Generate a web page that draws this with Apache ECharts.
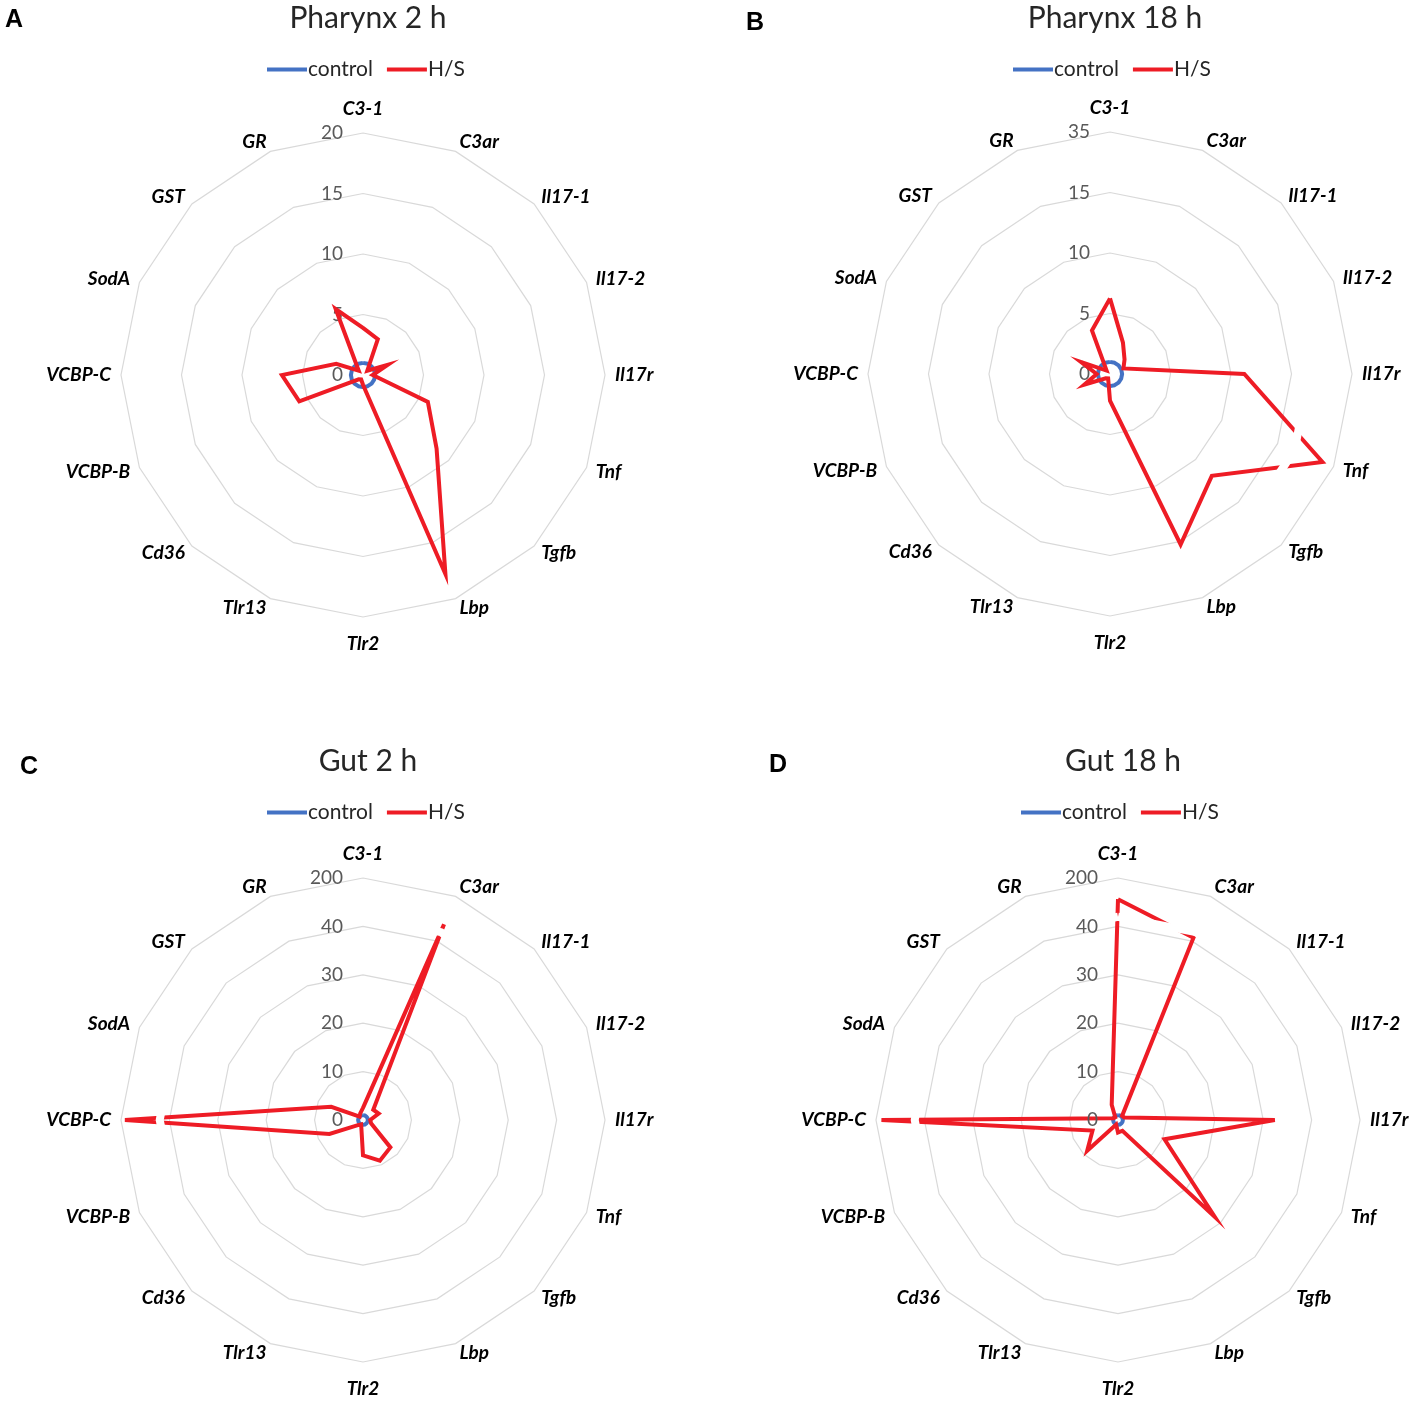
<!DOCTYPE html>
<html><head><meta charset="utf-8">
<script src="https://cdn.jsdelivr.net/npm/echarts@6/dist/echarts.min.js"></script>
<style>html,body{margin:0;padding:0;background:#fff}#c{width:1416px;height:1401px}</style>
</head><body><div id="c"></div>
<script>
// ---- data ----
const categories = ['C3-1','C3ar','Il17-1','Il17-2','Il17r','Tnf','Tgfb','Lbp','Tlr2','Tlr13','Cd36','VCBP-B','VCBP-C','SodA','GST','GR'];
const panelTitles = ['Pharynx 2 h','Pharynx 18 h','Gut 2 h','Gut 18 h'];
const panelLetters = ['A','B','C','D'];
const seriesNames = ['control','H/S'];

const ticksA = [0,5,10,15,20];
const ticksB = [0,5,10,15,35];
const ticksC = [0,10,20,30,40,200];
const ticksD = [0,10,20,30,40,200];

const controlA = [1,1,1,1,1,1,1,1,1,1,1,1,1,1,1,1];
const controlB = [1,1,1,1,1,1,1,1,1,1,1,1,1,1,1,1];
const controlC = [1,1,1,1,1,1,1,1,1,1,1,1,1,1,1,1];
const controlD = [1,1,1,1,1,1,1,1,1,1,1,1,1,1,1,1];

const hsA = [3.9, 3.2, 0.5, 2.2, 0.8, 5.8, 8.6, 17.8, 0.8, 0.4, 0.5, 5.7, 6.7, 2.4, 0.5, 5.9];
const hsB = [6.25, 2.8, 1.7, 1.2, 11.1, 31, 11.9, 16, 2.2, 0.4, 0.5, 2.3, 1.1, 2.6, 0.4, 3.9];
const hsC = [2.5, 100, 3.0, 3.5, 1.5, 1.8, 8.0, 9.1, 7.3, 1.0, 1.5, 7.5, 187, 7.1, 1.0, 1.5];
const hsD = [130, 52, 1.2, 1.4, 32.4, 10.4, 28.3, 2.4, 2.6, 1.0, 9.0, 5.7, 182, 1.0, 0.8, 3.4];

// axis-break marks (value where the scale is broken), null = no break
const breakA = null, breakB = 21, breakC = 72, breakD = 72;

// ---- layout / style ----
const centers = [[363,375],[1110,374],[363,1120],[1118,1120]];
const R = 242;
const titleY = [-2, -2, 741, 741];
const legendPos = [[262,54],[1008,54],[262,797],[1016,797]];
const letterPos = [[0,3],[741,6],[15,750],[764,748]];
const labelsOnTop = [false, false, true, true];
const BLUE = '#4472C4', RED = '#EE1C25';
const FONT = 'Lato, "Open Sans", sans-serif';

const ticksAll = [ticksA, ticksB, ticksC, ticksD];
const controls = [controlA, controlB, controlC, controlD];
const hss = [hsA, hsB, hsC, hsD];
const breaks = [breakA, breakB, breakC, breakD];

// broken-axis scale: value -> ring index space
function toScale(v, ticks) {
  for (let i = 0; i < ticks.length - 1; i++) {
    if (v <= ticks[i + 1]) return i + (v - ticks[i]) / (ticks[i + 1] - ticks[i]);
  }
  return ticks.length - 1;
}
// ECharts radar runs counter-clockwise; reorder so categories run clockwise
const order = [0].concat(categories.slice(1).map((_, i) => categories.length - 1 - i));
// names on the vertical axes (top / bottom) sit a little further out
const verticalNames = [categories[0], categories[categories.length / 2]];

const radar = [], labelRadar = [], series = [], title = [], legend = [];
for (let p = 0; p < 4; p++) {
  const ticks = ticksAll[p];
  const n = ticks.length - 1;
  const labelStyle = { show: true, color: '#595959', fontSize: 19, fontFamily: FONT, margin: 20,
    formatter: (v) => String(ticks[Math.round(v)]) };
  const onTop = labelsOnTop[p];
  const nameStyle = { color: '#000', fontStyle: 'italic', fontWeight: 'bold', fontSize: 19, fontFamily: FONT };
  // grid radar (polygon rings + category names)
  radar.push({
    z: 0,
    center: centers[p], radius: R, startAngle: 90, shape: 'polygon', splitNumber: n,
    indicator: order.map((k, j) => {
      const ind = { name: categories[k], min: 0, max: n };
      if (j === 0 && !onTop) ind.axisLabel = labelStyle;
      return ind;
    }),
    axisName: Object.assign({}, nameStyle, {
      formatter: (name) => verticalNames.indexOf(name) >= 0 ? '{v|' + name + '}' : name,
      rich: { v: Object.assign({}, nameStyle, { padding: [7, 0, 5, 0] }) }
    }),
    nameGap: 10,
    splitLine: { lineStyle: { color: '#d9d9d9', width: 1.2 } },
    splitArea: { show: false },
    axisLine: { show: false },
    axisTick: { show: false },
    axisLabel: Object.assign({}, labelStyle, { show: false })
  });
  if (onTop) {
    // overlay radar carrying only the value labels on the first axis (drawn above the break marks)
    labelRadar.push({
      z: 10,
      center: centers[p], radius: R, startAngle: 90, shape: 'polygon', splitNumber: n,
      indicator: order.map((k, j) => {
        const ind = { name: '', min: 0, max: n };
        if (j === 0) ind.axisLabel = labelStyle;
        return ind;
      }),
      axisName: { show: false },
      splitLine: { show: false },
      splitArea: { show: false },
      axisLine: { show: false },
      axisTick: { show: false },
      axisLabel: Object.assign({}, labelStyle, { show: false })
    });
  }
  const ctrl = controls[p], hs = hss[p];
  series.push({
    type: 'radar', radarIndex: p, name: 'control', symbol: 'none', silent: true, z: 2,
    lineStyle: { color: BLUE, width: 4 }, itemStyle: { color: BLUE },
    data: [{ name: 'control', value: order.map(k => toScale(ctrl[k], ticks)) }]
  });
  series.push({
    type: 'radar', radarIndex: p, name: 'H/S', symbol: 'none', silent: true, z: 3,
    lineStyle: { color: RED, width: 4, join: 'miter' }, itemStyle: { color: RED },
    data: [{ name: 'H/S', value: order.map(k => toScale(hs[k], ticks)) }]
  });
  if (breaks[p] != null) {
    series.push({
      type: 'radar', radarIndex: p, name: 'break', symbol: 'none', silent: true, z: 5,
      lineStyle: { color: '#ffffff', width: 8 },
      data: [{ name: 'break', value: order.map(() => toScale(breaks[p], ticks)) }]
    });
  }
  title.push({ text: panelTitles[p], left: centers[p][0], top: titleY[p], textAlign: 'center',
    textStyle: { fontSize: 30, fontWeight: 'normal', color: '#262626', fontFamily: FONT } });
  title.push({ text: panelLetters[p], left: letterPos[p][0], top: letterPos[p][1],
    textStyle: { fontSize: 25, fontWeight: 'bold', color: '#000', fontFamily: '"Liberation Sans", Arial, sans-serif' } });
  legend.push({
    data: seriesNames, left: legendPos[p][0], top: legendPos[p][1], icon: 'rect',
    itemWidth: 40, itemHeight: 4, itemGap: 14, selectedMode: false,
    textStyle: { fontSize: 21, color: '#262626', fontFamily: FONT, padding: [0,0,0,-4] }
  });
}

const chart = echarts.init(document.getElementById('c'), null, { renderer: 'canvas' });
chart.setOption({
  backgroundColor: '#fff',
  animation: false,
  color: [BLUE, RED],
  title, legend, radar: radar.concat(labelRadar), series
});
</script>
</body></html>
